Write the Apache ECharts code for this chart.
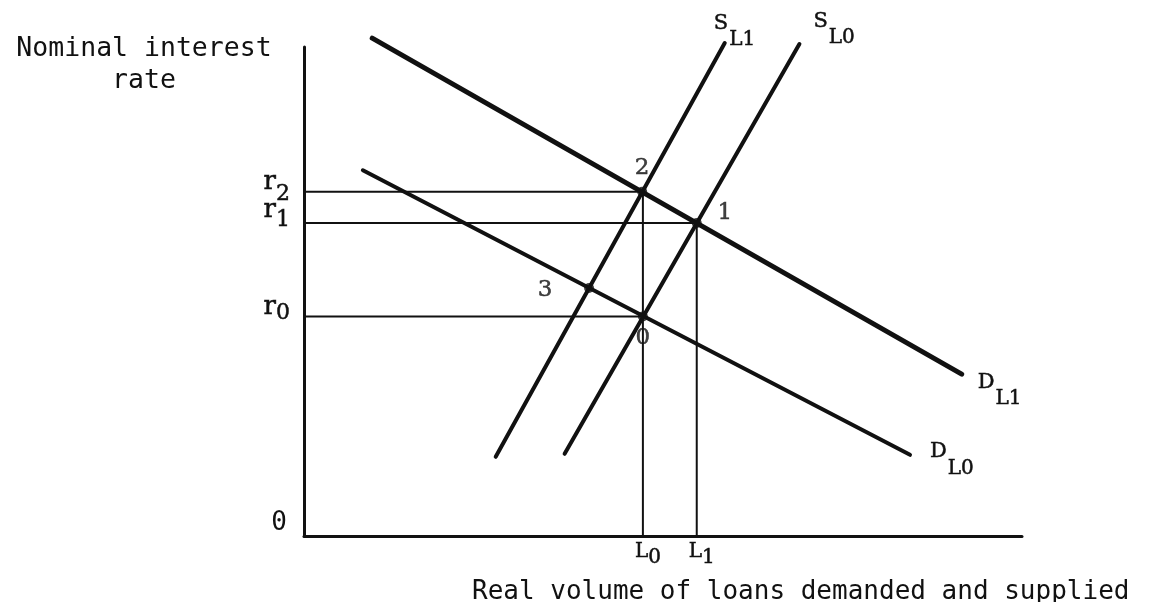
<!DOCTYPE html>
<html>
<head>
<meta charset="utf-8">
<title>Loanable funds</title>
<script src="https://cdn.jsdelivr.net/npm/echarts@6/dist/echarts.min.js"></script>
<style>
  html, body { margin: 0; padding: 0; background: #fff; }
  #chart { width: 1160px; height: 602px; }
</style>
</head>
<body>
<div id="chart"></div>
<script>
// values (x = loan volume, y = interest rate, both 0-100)
const demandL1 = [[9.5, 101.8], [91.6, 33.1]];
const demandL0 = [[8.2, 74.8], [84.4, 16.6]];
const supplyL1 = [[26.7, 16.2], [58.6, 100.8]];
const supplyL0 = [[36.3, 16.8], [69.0, 100.6]];

// numbered intersections
const pointNames = ['2', '1', '3', '0'];
const pointX = [47.1, 54.7, 39.7, 47.2];
const pointY = [70.4, 64.0, 50.7, 44.9];

// axis marks
const rateTicks = [0, 44.9, 64.0, 70.4];
const rateLabels = ['0', 'r0', 'r1', 'r2'];
const loanTicks = [47.2, 54.7];
const loanLabels = ['L0', 'L1'];

const MONO = "'DejaVu Sans Mono', monospace";
const SERIF = "'DejaVu Serif', serif";
const INK = '#111';

// drop lines: each rate level runs across to the loan volume below its point
const rateGuides = [
  [rateTicks[3], loanTicks[0]],
  [rateTicks[2], loanTicks[1]],
  [rateTicks[1], loanTicks[0]]
];
const loanGuides = [
  [loanTicks[0], rateTicks[3]],
  [loanTicks[1], rateTicks[2]]
];

// label placement for the numbered points (pixels)
const pointLabelOffset = { '2': [0, -24], '1': [28, -10], '3': [-44, 2], '0': [0, 22] };

// typewriter-ish weight for the serif labels
const heavy = { color: INK, textBorderColor: INK, textBorderWidth: 0.5 };

function curve(name, data, width, sub, offset) {
  return {
    name: name,
    type: 'line',
    data: data,
    clip: false,
    symbol: 'none',
    silent: true,
    lineStyle: { color: INK, width: width, cap: 'round' },
    endLabel: {
      show: true,
      distance: 0,
      offset: offset,
      formatter: '{m|' + name + '}{s|' + sub + '}',
      rich: {
        m: Object.assign({ fontFamily: SERIF, fontSize: 21, lineHeight: 22, padding: [0, 1, 16, 0] }, heavy),
        s: Object.assign({ fontFamily: SERIF, fontSize: 20, lineHeight: 20, padding: [18, 0, 0, 0] }, heavy)
      }
    }
  };
}

function guide(data) {
  return {
    type: 'line',
    data: data,
    symbol: 'none',
    silent: true,
    lineStyle: { color: INK, width: 2 }
  };
}

const series = [];
rateGuides.forEach(g => series.push(guide([[0, g[0]], [g[1], g[0]]])));
loanGuides.forEach(g => series.push(guide([[g[0], 0], [g[0], g[1]]])));
series.push(curve('D', demandL1, 5, 'L1', [16, 16]));
series.push(curve('D', demandL0, 4, 'L0', [20, 5]));
series.push(curve('S', supplyL1, 4, 'L1', [-11, -12]));
series.push(curve('S', supplyL0, 4, 'L0', [14, -15]));
series.push({
  type: 'scatter',
  symbolSize: 10,
  silent: true,
  itemStyle: { color: INK },
  data: pointNames.map((n, i) => ({
    name: n,
    value: [pointX[i], pointY[i]],
    label: { offset: pointLabelOffset[n] }
  })),
  label: Object.assign({
    show: true,
    position: 'inside',
    formatter: p => p.name,
    fontFamily: SERIF,
    fontSize: 23
  }, heavy)
});

// r1 and r2 sit close together and the axis drops one of them as an overlap,
// so the rate labels are split over two stacked y axes
function rateAxis(values, showLine) {
  return {
    type: 'value',
    position: 'left',
    offset: 0,
    min: 0,
    max: 100,
    splitLine: { show: false },
    axisTick: { show: false },
    axisLine: { show: showLine, lineStyle: { color: INK, width: 3 } },
    axisLabel: {
      customValues: values,
      margin: 14,
      hideOverlap: false,
      showMinLabel: true,
      showMaxLabel: true,
      formatter: v => {
        const t = rateLabels[rateTicks.indexOf(v)] || '';
        if (t === '0') return '{z|0}';
        if (t === 'r2') return '{rb|r}{sb|2}';
        if (t === 'r0') return '{rc|r}{sa|0}';
        return '{ra|r}{sa|' + t.slice(1) + '}';
      },
      rich: {
        z: { fontFamily: MONO, fontSize: 26, lineHeight: 4, color: INK, padding: [0, 3, 26, 0] },
        ra: Object.assign({ fontFamily: SERIF, fontSize: 26, lineHeight: 2, padding: [0, 0, 26, 0] }, heavy),
        rc: Object.assign({ fontFamily: SERIF, fontSize: 26, lineHeight: 2, padding: [0, 0, 19, 0] }, heavy),
        sa: Object.assign({ fontFamily: SERIF, fontSize: 22, lineHeight: 2, padding: [0, 0, 6, 0] }, heavy),
        rb: Object.assign({ fontFamily: SERIF, fontSize: 26, lineHeight: 2, padding: [0, 0, 18, 0] }, heavy),
        sb: Object.assign({ fontFamily: SERIF, fontSize: 22, lineHeight: 2, padding: [6, 0, 0, 0] }, heavy)
      }
    }
  };
}

const chart = echarts.init(document.getElementById('chart'));
chart.setOption({
  animation: false,
  backgroundColor: '#fff',
  title: [
    {
      text: 'Nominal interest\nrate',
      left: 139,
      top: 28,
      textAlign: 'center',
      textStyle: { fontFamily: MONO, fontSize: 26.5, fontWeight: 'normal', lineHeight: 32, color: INK }
    },
    {
      text: 'Real volume of loans demanded and supplied',
      left: 467,
      top: 571,
      textStyle: { fontFamily: MONO, fontSize: 26, fontWeight: 'normal', lineHeight: 32, color: INK }
    }
  ],
  grid: { left: 304, right: 138, top: 47, bottom: 66 },
  xAxis: {
    type: 'value',
    min: 0,
    max: 100,
    splitLine: { show: false },
    axisTick: { show: false },
    axisLine: { lineStyle: { color: INK, width: 3 } },
    axisLabel: {
      customValues: loanTicks,
      margin: 6,
      hideOverlap: false,
      showMinLabel: true,
      showMaxLabel: true,
      formatter: v => {
        const t = loanLabels[loanTicks.indexOf(v)] || '';
        return '{m|' + t[0] + '}{s|' + t.slice(1) + '}';
      },
      rich: {
        m: Object.assign({ fontFamily: SERIF, fontSize: 20, lineHeight: 20, padding: [0, 0, 0, 10] }, heavy),
        s: Object.assign({ fontFamily: SERIF, fontSize: 20, lineHeight: 18, padding: [12, 0, 0, 0] }, heavy)
      }
    }
  },
  yAxis: [
    rateAxis(rateTicks.filter((_, i) => i % 2 === 0), true),
    rateAxis(rateTicks.filter((_, i) => i % 2 === 1), false)
  ],
  series: series
});
</script>
</body>
</html>
